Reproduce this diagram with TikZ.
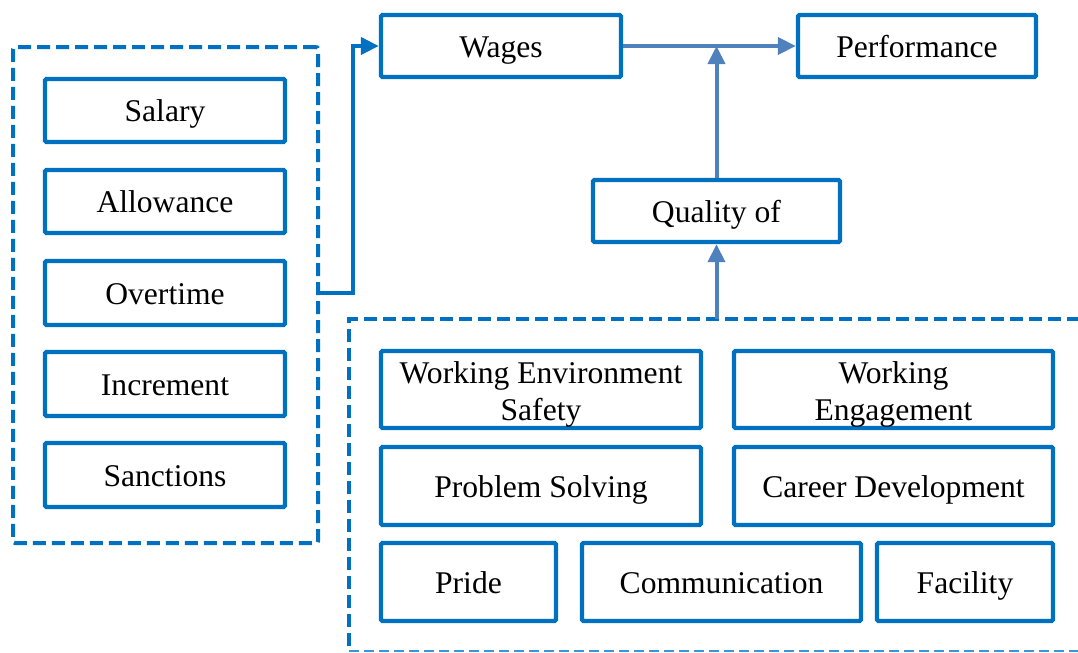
\documentclass[tikz,border=0pt]{standalone}
\usepackage{fontspec}
\setmainfont{Liberation Serif}
\usetikzlibrary{arrows.meta,fit}
\definecolor{mainblue}{HTML}{0070C0}
\definecolor{arrblue}{HTML}{4F81BD}
\definecolor{thinblue}{HTML}{3A96D8}
\tikzset{
  txt/.style={inner sep=0pt, align=center, font=\fontsize{15.8}{18.5}\selectfont, text=black},
  box/.style 2 args={draw=mainblue, line width=2.2pt, rounded corners=0.8pt, txt,
    text height=12pt, text depth=1pt, minimum width=#1*0.5pt, minimum height=#2*0.5pt},
  grp/.style={draw=mainblue, line width=2pt, dash pattern=on 6.5pt off 3pt, rounded corners=1pt, inner sep=0pt},
  conn/.style={draw=mainblue, line width=2pt, -{Triangle[length=9pt,width=8.5pt]}},
  conn2/.style={draw=arrblue, line width=2pt, -{Triangle[length=9pt,width=8.5pt]}},
}
\begin{document}
\begin{tikzpicture}[x=0.5pt,y=-0.5pt]
\useasboundingbox (0,0) rectangle (1078,653);
% left group
\node[grp, fit={(13,47)(318,543)}] (leftgroup) {};
\node[box={240}{63}] (salary) at (165,110.5) {Salary};
\node[box={240}{63}] (allowance) at (165,201.5) {Allowance};
\node[box={240}{64}] (overtime) at (165,293) {Overtime};
\node[box={240}{64}] (increment) at (165,384) {Increment};
\node[box={240}{64}] (sanctions) at (165,475) {Sanctions};
% top
\node[box={240}{62}] (wages) at (501,46) {Wages};
\node[box={238}{62}] (perf) at (917,46) {Performance};
\node[box={247}{62}] (quality) at (716.5,211) {Quality of};
% right group (open to the right)
\coordinate (rgtop) at (349,319);
\draw[draw=mainblue, line width=2pt, dash pattern=on 6.5pt off 3pt] (1080,319) -- (rgtop) -- (349,651);
\draw[draw=thinblue, line width=0.9pt, dash pattern=on 5pt off 2.5pt] (349,651) -- (1080,651);
\node[box={320}{77}] (wes) at (541,389.5) {};
\node[txt] (wesl) at ([yshift=-2.5pt]wes.center) {Working Environment\\Safety};
\node[box={319}{77}] (we) at (893.5,389.5) {};
\node[txt] (wel) at ([yshift=-2.5pt]we.center) {Working\\Engagement};
\node[box={320}{78}] (ps) at (541,486) {Problem Solving};
\node[box={319}{78}] (cd) at (893.5,486) {Career Development};
\node[box={175}{78}] (pride) at (468.5,582) {Pride};
\node[box={279}{78}] (comm) at (721.5,582) {Communication};
\node[box={176}{78}] (fac) at (965,582) {Facility};
% connectors
\draw[conn] (overtime.east -| leftgroup.east) -- ++(33,0) |- (wages.west);
\draw[conn2] (wages.east) -- (perf.west);
\draw[conn2] (quality.north) -- (quality.north |- wages.east);
\draw[conn2] (quality.south |- rgtop) -- (quality.south);
\end{tikzpicture}
\end{document}
